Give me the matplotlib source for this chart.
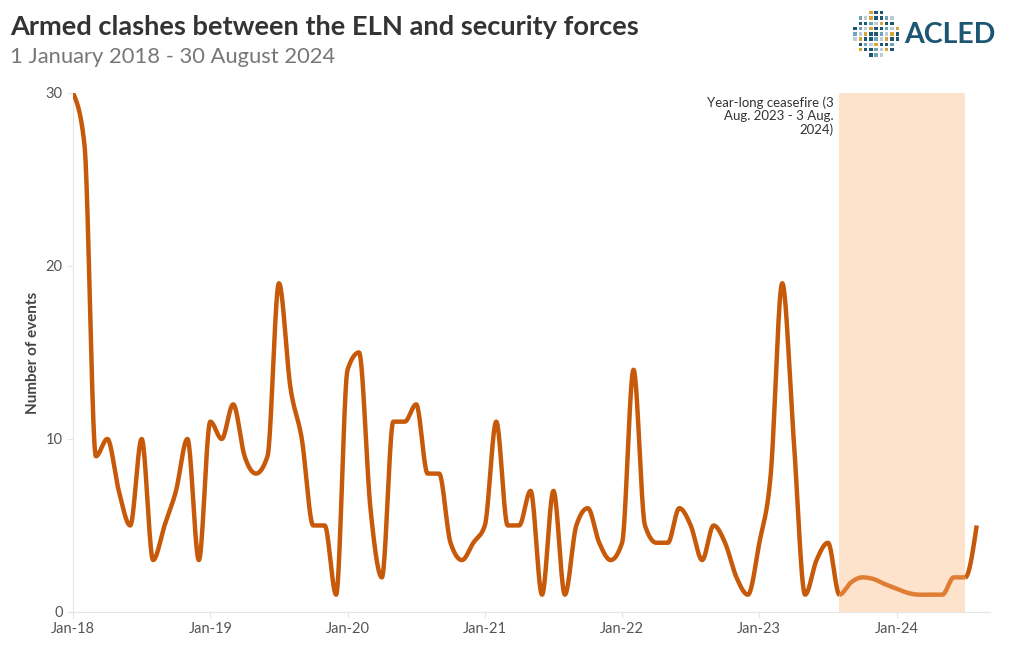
import numpy as np
import matplotlib
matplotlib.use("Agg")
import matplotlib.pyplot as plt

plt.rcParams['font.family'] = ['Lato', 'DejaVu Sans']

# monthly counts, Jan 2018 - Aug 2024
EVENTS = [30, 27, 9, 10, 7, 5, 10, 3, 5, 7, 10, 3,
          11, 10, 12, 9, 8, 9, 19, 13, 10, 5, 5, 1,
          14, 15, 6, 2, 11, 11, 12, 8, 8, 4, 3, 4,
          5, 11, 5, 5, 7, 1, 7, 1, 5, 6, 4, 3,
          4, 14, 5, 4, 4, 6, 5, 3, 5, 4, 2, 1,
          4, 8, 19, 10, 1, 3, 4, 1, 1.7, 2, 1.9, 1.6,
          1.35, 1.1, 1, 1, 1, 2, 2, 5]
TICK_LABELS = ["Jan-18", "Jan-19", "Jan-20", "Jan-21", "Jan-22", "Jan-23", "Jan-24"]
CEASEFIRE = (67, 78)  # month index of Aug-23 and Jul-24 points
CEASEFIRE_NOTE = "Year-long ceasefire (3\nAug. 2023 - 3 Aug.\n2024)"

DARK = "#C75A0A"
LIGHT = "#E07D35"
SHADE = "#FDE3CB"


def monotone_curve(y, n=40):
    """d3 curveMonotoneX style interpolation on unit-spaced points."""
    y = np.asarray(y, float)
    s = np.diff(y)
    m = np.zeros_like(y)
    for i in range(1, len(y) - 1):
        s0, s1 = s[i - 1], s[i]
        p = (s0 + s1) / 2
        m[i] = (np.sign(s0) + np.sign(s1)) * min(abs(s0), abs(s1), 0.5 * abs(p))
    m[0] = (3 * s[0] - m[1]) / 2
    m[-1] = (3 * s[-1] - m[-2]) / 2
    xs, ys = [], []
    t = np.linspace(0, 1, n, endpoint=False)
    for i in range(len(y) - 1):
        h00 = 2 * t**3 - 3 * t**2 + 1
        h10 = t**3 - 2 * t**2 + t
        h01 = -2 * t**3 + 3 * t**2
        h11 = t**3 - t**2
        xs.append(i + t)
        ys.append(h00 * y[i] + h10 * m[i] + h01 * y[i + 1] + h11 * m[i + 1])
    xs.append([len(y) - 1])
    ys.append([y[-1]])
    return np.concatenate(xs), np.concatenate(ys)


fig = plt.figure(figsize=(10.2, 6.5), dpi=100)
ax = fig.add_axes([0.0716, 0.0585, 0.8994, 0.7985])

ax.axvspan(CEASEFIRE[0], CEASEFIRE[1], color=SHADE, lw=0, zorder=0)

cx, cy = monotone_curve(EVENTS)
inside = (cx >= CEASEFIRE[0]) & (cx <= CEASEFIRE[1])
ax.plot(np.where(cx <= CEASEFIRE[0], cx, np.nan), cy, color=DARK, lw=3.2,
        solid_capstyle='butt', zorder=3)
ax.plot(np.where(cx >= CEASEFIRE[1], cx, np.nan), cy, color=DARK, lw=3.2,
        solid_capstyle='butt', zorder=3)
ax.plot(np.where(inside, cx, np.nan), cy, color=LIGHT, lw=3.2,
        solid_capstyle='butt', zorder=3)

ax.text(CEASEFIRE[0] - 0.5, 29.8, CEASEFIRE_NOTE, ha='right', va='top',
        fontsize=9.5, color="#333333", linespacing=1.1)

ax.set_xlim(0, 80.2)
ax.set_ylim(0, 30)
ax.set_xticks(np.arange(len(TICK_LABELS)) * 12)
ax.set_xticklabels(TICK_LABELS)
ax.set_yticks([0, 10, 20, 30])
ax.tick_params(colors="#e6e6e6", labelcolor="#555555", labelsize=10.5, length=4)
for side in ("top", "right"):
    ax.spines[side].set_visible(False)
for side in ("left", "bottom"):
    ax.spines[side].set_color("#e6e6e6")
ax.set_ylabel("Number of events", fontsize=11, fontweight='bold', color="#444444",
              labelpad=4)

fig.text(0.010, 0.958, "Armed clashes between the ELN and security forces",
         fontsize=19.6, fontweight='bold', color="#333333", va='center')
fig.text(0.010, 0.912, "1 January 2018 - 30 August 2024",
         fontsize=15.8, color="#777777", va='center')

# ACLED logo: text plus a dotted globe
fig.text(0.886, 0.946, "ACLED", fontsize=20.5, fontweight='bold', color="#1D5672",
         va='center')
lax = fig.add_axes([0.836, 0.912, 0.046, 0.072])
lax.set_xlim(-1, 1)
lax.set_ylim(-1, 1)
lax.axis('off')
gx, gy = np.meshgrid(np.linspace(-0.9, 0.9, 9), np.linspace(-0.9, 0.9, 9))
gx, gy = gx.ravel(), gy.ravel()
keep = gx**2 + gy**2 < 0.95
cols = ["#1D5672", "#D9A53B", "#6FA3B8", "#1D5672", "#B9CFD8"]
lax.scatter(gx[keep], gy[keep], s=6, marker='s',
            c=[cols[(i * 7) % 5] for i in range(keep.sum())], lw=0)

fig.savefig("out.png", dpi=100)
